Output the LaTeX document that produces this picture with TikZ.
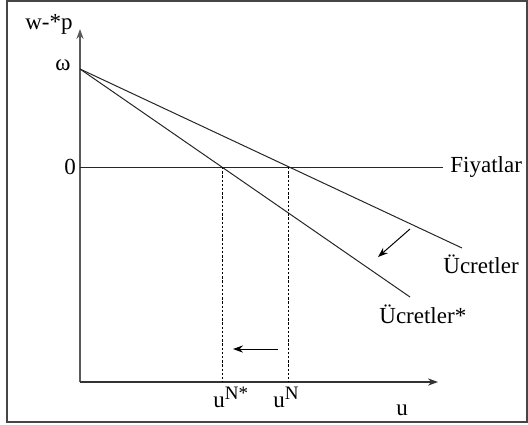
\documentclass[tikz,border=0pt]{standalone}
\usepackage{fontspec}
\setmainfont{Liberation Serif}
\usetikzlibrary{arrows.meta, positioning}
\definecolor{axisgray}{RGB}{90,90,90}
\definecolor{framegray}{RGB}{70,70,70}
\newcommand{\supN}[1]{\raisebox{0.34em}{\fontsize{9.5}{10}\selectfont #1}}

\begin{document}
\begin{tikzpicture}[x=0.5pt, y=-0.5pt,
    lbl/.style={inner sep=0pt, font=\fontsize{11.5}{13}\selectfont},
    curve/.style={line width=0.5pt, black!85},
    guide/.style={line width=0.5pt, dash pattern=on 1.2pt off 0.9pt},
    moveline/.style={line width=0.5pt, -{Stealth[length=5pt, width=3.6pt]}}]
  \useasboundingbox (0,0) rectangle (528,424);
  % Frame
  \draw[framegray, line width=0.9pt] (7,1) rectangle (527,422);
  % Axes
  \coordinate (orig) at (80,382);
  \coordinate (ytip) at (80,29);
  \coordinate (xtip) at (438,382);
  \draw[axisgray, line width=0.7pt, -{Stealth[length=5pt, width=3.6pt]}] (orig) -- (ytip);
  \draw[black!80, line width=0.7pt, -{Stealth[length=5pt, width=3.6pt]}] (orig) -- (xtip);
  % Lines
  \coordinate (om) at (80,69);
  \coordinate (zr) at (80,167);
  \coordinate (fend) at (443,167);
  \coordinate (wend) at (462,248);
  \coordinate (wsend) at (410,297);
  \draw[curve] (zr) -- (fend);
  \draw[curve] (om) -- (wend);
  \draw[curve] (om) -- (wsend);
  % Guides
  \coordinate (nstar) at (222,167);
  \coordinate (nstarb) at (222,382);
  \coordinate (n) at (288,167);
  \coordinate (nb) at (288,382);
  \draw[guide] (nstar) -- (nstarb);
  \draw[guide] (n) -- (nb);
  % Shift arrows
  \coordinate (s1) at (410,229);
  \coordinate (s2) at (378,257);
  \coordinate (h1) at (278,349);
  \coordinate (h2) at (233,349);
  \draw[moveline] (s1) -- (s2);
  \draw[moveline] (h1) -- (h2);
  % Labels
  \node[lbl] (ylab) at (49,24) {w-*p};
  \node[lbl] (omlab) at (63,65) {ω};
  \node[lbl] (zlab) at (70,167) {0};
  \node[lbl, anchor=base west] (flab) at (450,172) {Fiyatlar};
  \node[lbl, anchor=base west] (wlab) at (443,273) {Ücretler};
  \node[lbl, anchor=base west] (wslab) at (379,323) {Ücretler*};
  \node[lbl, anchor=base west] (nslab) at (213,407) {u\supN{N*}};
  \node[lbl, anchor=base west] (nlab) at (273,407) {u\supN{N}};
  \node[lbl, anchor=base] (ulab) at (402,415) {u};
\end{tikzpicture}
\end{document}
